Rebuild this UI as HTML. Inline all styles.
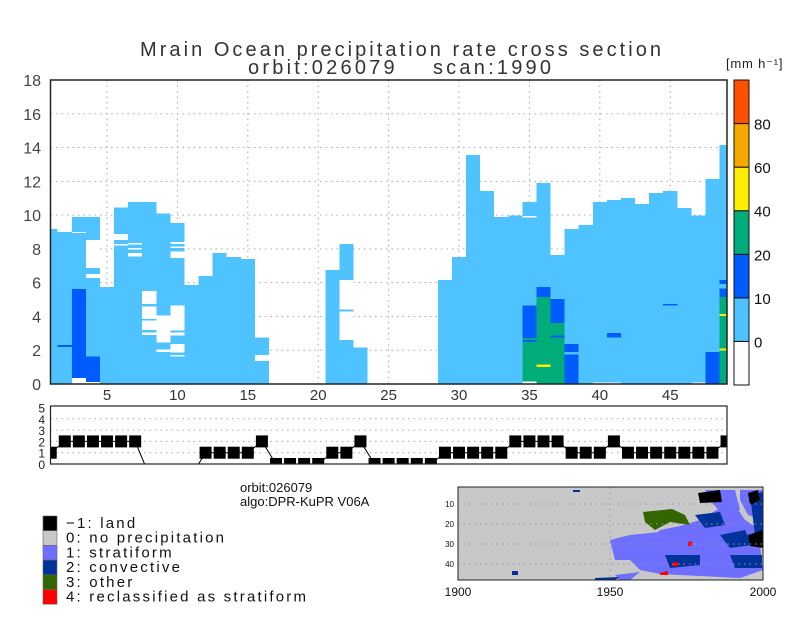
<!DOCTYPE html>
<html><head><meta charset="utf-8"><style>
html,body{margin:0;padding:0;background:#fff;}
svg{display:block;font-family:"Liberation Sans",sans-serif;}
</style></head><body>
<svg id="chart" width="800" height="618" viewBox="0 0 800 618" xmlns="http://www.w3.org/2000/svg">
<rect width="800" height="618" fill="#fff"/>
<text x="140" y="56" font-size="20" textLength="521" lengthAdjust="spacing" fill="#333">Mrain Ocean precipitation rate cross section</text>
<text x="248" y="74" font-size="20" textLength="303" lengthAdjust="spacing" fill="#333" xml:space="preserve">orbit:026079    scan:1990</text>
<text x="726" y="68" font-size="13" fill="#222" letter-spacing="0.8">[mm h⁻¹]</text>
<g id="main"></g>
<g id="cbar"></g>
<g id="type"></g>
<text x="240" y="492" font-size="13" fill="#111">orbit:026079</text>
<text x="240" y="506" font-size="13" fill="#111">algo:DPR-KuPR V06A</text>
<g id="legend"></g>
<g id="map"></g>
</svg>
<script>
const bins = [];
for (let i = 1; i <= 49; i++) bins.push(i);
const tops = [9.18,9.0,9.9,9.9,5.74,10.44,10.78,10.78,10.1,9.53,5.86,6.39,7.76,7.52,7.4,2.74,0,0,0,0,6.75,8.29,2.15,0,0,0,0,0,6.16,7.52,13.56,11.43,9.9,9.98,10.78,11.9,7.64,9.18,9.41,10.78,10.9,11.0,10.66,11.31,11.43,10.42,9.98,12.13,14.15];
const overlayBin = [2,3,3,3,4,4,4,4,6,6,7,7,7,8,8,8,8,9,9,10,10,10,10,10,10,10,16,22,22,35,35,35,35,35,35,36,36,36,37,37,37,38,38,40,41,41,45,47,48,49,49,49,49,49];
const overlayLo = [2.2,8.95,0.37,0,6.87,6.27,0.12,0,8.53,8.2,8.25,7.95,7.55,4.75,3.84,3.2,2.9,2.45,1.9,8.3,8.05,7.45,3.16,2.86,1.86,1.62,1.36,4.4,2.6,9.85,2.72,2.6,2.49,0.14,0,5.15,0,1.02,3.61,0,2.74,1.9,0,0,2.74,0,4.65,0,0,5.92,5.15,0,4.03,1.97];
const overlayHi = [2.3,9.0,5.63,0.37,8.53,6.5,1.63,0.12,8.88,8.3,8.35,8.05,7.75,5.5,4.6,3.75,3.05,4.05,2.05,8.4,8.15,7.85,4.64,3.04,2.37,1.72,1.72,6.16,4.3,9.95,4.64,2.72,2.6,2.49,0.14,5.74,5.15,1.14,5.03,3.61,2.86,2.37,1.74,0.1,3.02,0.1,4.75,0.1,1.9,6.16,5.65,5.15,4.15,2.09];
const overlayCls = ['d','w','d','w','w','w','d','w','w','w','w','w','w','w','w','w','w','w','w','w','w','w','w','w','w','w','w','w','w','w','d','g','d','g','w','d','g','y','d','g','d','d','d','w','d','w','d','w','d','d','d','g','y','y'];
const yTicks = [0,2,4,6,8,10,12,14,16,18];
const xTicks = [5,10,15,20,25,30,35,40,45];
const cbarColors = ['#ffffff','#4fc3ff','#005cff','#00ad7a','#ffee00','#f5a800','#ff5000'];
const cbarLabels = ['0','10','20','40','60','80'];
const typeVals = [1,2,2,2,2,2,2,-1,-1,-1,-1,1,1,1,1,2,0,0,0,0,1,1,2,0,0,0,0,0,1,1,1,1,1,2,2,2,2,1,1,1,2,1,1,1,1,1,1,1,2];
const typeTicks = [0,1,2,3,4,5];
const legendLabels = ['−1: land','0: no precipitation','1: stratiform','2: convective','3: other','4: reclassified as stratiform'];
const legendColors = ['#000000','#c8c8c8','#6e6eff','#003399','#336600','#ff0000'];

const NS = 'http://www.w3.org/2000/svg';
function mk(tag, attrs, parent){const e=document.createElementNS(NS,tag);for(const k in attrs)e.setAttribute(k,attrs[k]);parent.appendChild(e);return e;}
const colMap = {l:'#4fc3ff', d:'#005cff', g:'#00ad7a', y:'#ffee00', w:'#ffffff'};
const X0 = 50.5, X1 = 727;
const xs = v => 50.7 + (v - 1) * 14.08;
const ys = v => 384 - v * 16.89;

const main = document.getElementById('main');
yTicks.forEach(t => { if (t > 0 && t < 18) { const l = mk('line',{x1:X0,x2:X1,y1:ys(t),y2:ys(t),stroke:'#aaa','stroke-dasharray':'1.5,4'},main);

 }});
xTicks.forEach(t => { const l = mk('line',{x1:xs(t),x2:xs(t),y1:80,y2:384,stroke:'#aaa','stroke-dasharray':'1.5,4'},main);

 });
function seg(b, lo, hi, c, name){
  const a = Math.max(1, b - 0.5), z = Math.min(49, b + 0.5);
  const r = mk('rect',{x:xs(a),y:ys(hi),width:xs(z)-xs(a),height:ys(lo)-ys(hi),fill:colMap[c],'shape-rendering':'crispEdges'},main);
  
  
}
bins.forEach((b,i) => { if (tops[i] > 0) seg(b, 0, tops[i], 'l', 'precip-column'); });
overlayBin.forEach((b,i) => seg(b, overlayLo[i], overlayHi[i], overlayCls[i], 'precip-segment'));
const fr = mk('rect',{x:X0,y:80,width:X1-X0,height:304,fill:'none',stroke:'#222','stroke-width':1.5},main);


yTicks.forEach(t => { const tx = mk('text',{x:41,y:ys(t)+6,'font-size':16,'text-anchor':'end',fill:'#444'},main); tx.textContent=t;

 });
xTicks.forEach(t => { const tx = mk('text',{x:xs(t),y:400,'font-size':15,'text-anchor':'middle',fill:'#333'},main); tx.textContent=t;

 });

const cb = document.getElementById('cbar');
const cTop = 80, cBot = 385, cH = (cBot - cTop) / cbarColors.length;
cbarColors.forEach((c,i) => { const r = mk('rect',{x:734,y:cBot-(i+1)*cH,width:15,height:cH,fill:c,stroke:'#111','stroke-width':1},cb);

 });
cbarLabels.forEach((t,i) => { const tx = mk('text',{x:754,y:cBot-(i+1)*cH+6,'font-size':15,fill:'#111'},cb); tx.textContent=t;

 });

const tp = document.getElementById('type');
const ty = v => 464 - v * 11.3;
const clipDef = mk('clipPath',{id:'tclip'},tp);
mk('rect',{x:X0,y:ty(5)-1,width:X1-X0,height:ty(0)-ty(5)+1},clipDef);
[1,2,3,4].forEach(t => { const l = mk('line',{x1:X0,x2:X1,y1:ty(t),y2:ty(t),stroke:'#aaa','stroke-dasharray':'1.5,4'},tp);

 });
const pts = bins.map((b,i) => xs(b)+','+ty(typeVals[i])).join(' ');
const pl = mk('polyline',{points:pts,fill:'none',stroke:'#000','stroke-width':1,'clip-path':'url(#tclip)'},tp);


bins.forEach((b,i) => { if (typeVals[i] >= 0) { const r = mk('rect',{x:xs(b)-6,y:ty(typeVals[i])-6,width:12,height:12,fill:'#000','clip-path':'url(#tclip)'},tp);

 }});
const tf = mk('rect',{x:X0,y:ty(5)-1.5,width:X1-X0,height:ty(0)-ty(5)+1.5,fill:'none',stroke:'#222','stroke-width':1.2},tp);


typeTicks.forEach(t => { const tx = mk('text',{x:45,y:ty(t)+5,'font-size':12,'text-anchor':'end',fill:'#222'},tp); tx.textContent=t;

 });

const lg = document.getElementById('legend');
legendLabels.forEach((t,i) => {
  const y0 = 516 + i * 14.7;
  const r = mk('rect',{x:43,y:y0,width:14,height:14.7,fill:legendColors[i],stroke:'#666','stroke-width':0.6},lg);
  
  
  const tx = mk('text',{x:66,y:y0+12,'font-size':15,fill:'#111','letter-spacing':'2.2'},lg); tx.textContent=t;
  
  
});

const mp = document.getElementById('map');
const MX0 = 458, MX1 = 763, MY0 = 487, MY1 = 580;
mk('rect',{x:MX0,y:MY0,width:MX1-MX0,height:MY1-MY0,fill:'#c8c8c8'},mp);
const blobs = [
 ['#6e6eff','M650,540 L660,530 L680,526 L700,520 L720,508 L735,505 L745,520 L760,530 L760,545 L763,570 L740,578 L700,576 L660,574 L640,570 L630,560 L640,548 Z'],
 ['#6e6eff','M610,540 L630,535 L660,532 L650,548 L630,560 L615,560 Z'],
 ['#6e6eff','M740,490 L763,490 L763,520 L748,515 L740,500 Z'],
 ['#6e6eff','M705,490 L735,490 L740,510 L720,512 L710,500 Z'],
 ['#003399','M695,515 L720,512 L725,525 L705,528 Z'],
 ['#003399','M720,535 L745,530 L752,545 L730,548 Z'],
 ['#003399','M665,555 L700,555 L700,565 L670,568 Z'],
 ['#003399','M730,555 L762,555 L762,568 L735,568 Z'],
 ['#003399','M750,495 L763,492 L763,540 L755,535 Z'],
 ['#336600','M643,512 L672,509 L685,515 L690,525 L670,522 L655,530 L645,522 Z'],
 ['#6e6eff','M615,575 L640,572 L630,580 L620,580 Z'],
 ['#003399','M595,578 L620,577 L615,580 L595,580 Z'],
 ['#000000','M698,493 L720,490 L722,502 L700,503 Z'],
 ['#000000','M748,535 L763,530 L763,548 L750,546 Z'],
 ['#000000','M748,493 L758,490 L760,500 L750,505 Z'],
 ['#ff0000','M660,573 L668,571 L668,575 L660,575 Z'],
 ['#ff0000','M672,563 L678,562 L678,566 L672,566 Z'],
 ['#ff0000','M688,542 L692,541 L692,546 L688,546 Z'],
 ['#003399','M512,571 L518,571 L518,575 L512,575 Z'],
 ['#003399','M573,490 L580,490 L580,492 L573,492 Z']
];
blobs.forEach(b => { const p = mk('path',{d:b[1],fill:b[0]},mp);

 });
[10,20,30,40].forEach((t,i) => { const yy = 504 + i*20;
 const l = mk('line',{x1:MX0,x2:MX1,y1:yy,y2:yy,stroke:'#999','stroke-dasharray':'1.5,4'},mp);
 
 
 const tx = mk('text',{x:454,y:yy+3,'font-size':8,'text-anchor':'end',fill:'#111'},mp); tx.textContent=t;
 
  });
const vl = mk('line',{x1:610,x2:610,y1:MY0,y2:MY1,stroke:'#999','stroke-dasharray':'1.5,4'},mp);


const mf = mk('rect',{x:MX0,y:MY0,width:MX1-MX0,height:MY1-MY0,fill:'none',stroke:'#222','stroke-width':1},mp);


[['1900',MX0],['1950',610],['2000',MX1]].forEach(a => { const tx = mk('text',{x:a[1],y:596,'font-size':12,'text-anchor':'middle',fill:'#111'},mp); tx.textContent=a[0];
 
  });
</script>
</body></html>
